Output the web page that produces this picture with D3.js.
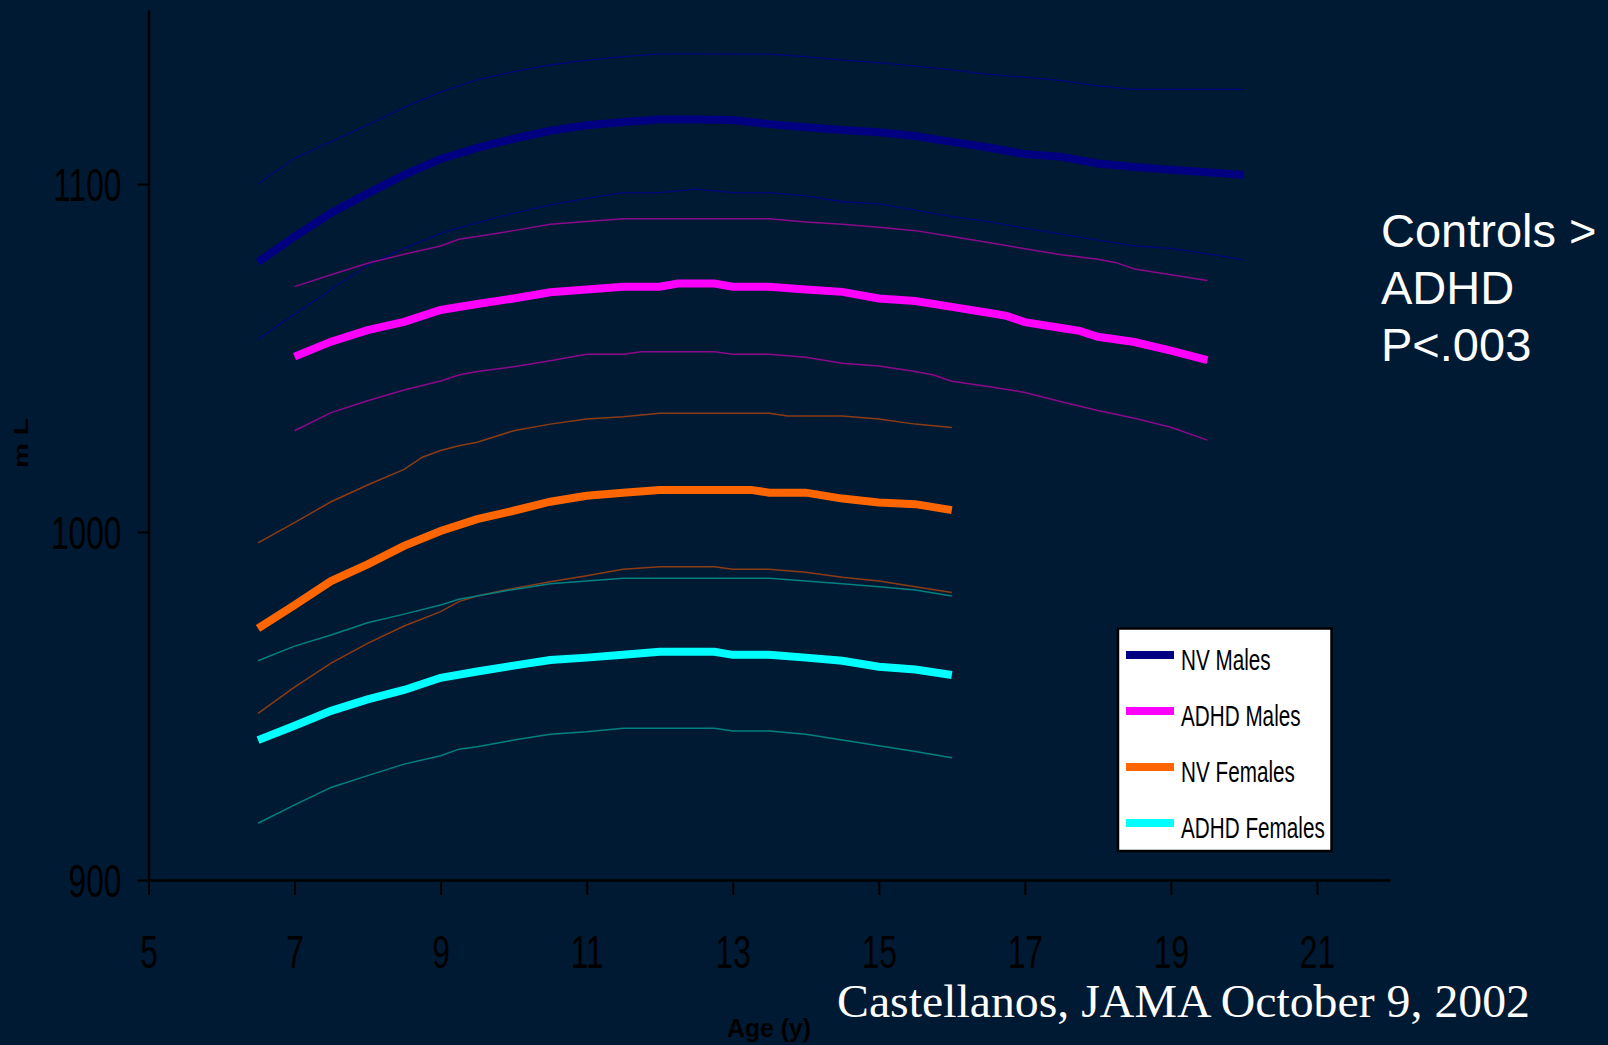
<!DOCTYPE html>
<html>
<head>
<meta charset="utf-8">
<script src="https://cdn.jsdelivr.net/npm/d3@7"></script>
<style>
  html, body { margin: 0; padding: 0; background: #001a33; }
  svg { display: block; }
</style>
</head>
<body>
<svg id="chart" width="1608" height="1045"></svg>
<script>
// Brain volume (mL) by age (y), mean curves with upper/lower bands, per group
const nvMalesMean = [[6.5,1077.6],[7,1084.9],[7.5,1091.7],[8,1097.3],[8.5,1102.6],[9,1107.2],[9.5,1110.4],[10,1113.0],[10.5,1115.3],[11,1116.9],[11.5,1117.8],[12,1118.5],[12.5,1118.5],[13,1118.4],[13.5,1117.2],[14,1116.3],[14.5,1115.5],[15,1114.9],[15.5,1113.8],[16,1112.1],[16.5,1110.5],[17,1108.6],[17.5,1107.8],[18,1105.9],[18.5,1104.9],[19,1104.1],[19.5,1103.4],[20,1102.6]];
const nvMalesUpper = [[6.5,1100.0],[7,1107.4],[7.5,1112.2],[8,1117.0],[8.5,1122.0],[9,1126.5],[9.5,1129.9],[10,1132.3],[10.5,1134.2],[11,1135.6],[11.5,1136.6],[12,1137.4],[12.5,1137.4],[13,1137.3],[13.5,1137.3],[14,1136.6],[14.5,1135.6],[15,1134.9],[15.5,1133.9],[16,1132.8],[16.5,1131.5],[17,1130.7],[17.5,1129.7],[18,1128.2],[18.5,1127.2],[19,1127.2],[19.5,1127.2],[20,1127.2]];
const nvMalesLower = [[6.5,1055.4],[7,1062.6],[7.5,1069.7],[8,1076.7],[8.5,1081.5],[9,1085.8],[9.5,1088.9],[10,1091.6],[10.5,1094.0],[11,1095.9],[11.5,1097.5],[12,1097.5],[12.5,1098.5],[13,1097.5],[13.5,1097.5],[14,1096.6],[14.5,1094.9],[15,1094.3],[15.5,1092.5],[16,1090.6],[16.5,1089.2],[17,1087.3],[17.5,1085.6],[18,1083.9],[18.5,1082.2],[19,1081.5],[19.5,1079.9],[20,1078.2]];

const adhdMalesMean = [[7,1050.4],[7.5,1054.7],[8,1058.0],[8.5,1060.4],[9,1063.8],[9.5,1065.5],[10,1067.1],[10.5,1068.9],[11,1069.7],[11.5,1070.5],[12,1070.5],[12.25,1071.4],[12.75,1071.4],[13,1070.5],[13.5,1070.5],[14,1069.7],[14.5,1069.0],[15,1067.1],[15.5,1066.4],[16,1064.7],[16.5,1063.0],[16.75,1062.1],[17,1060.3],[17.5,1058.6],[17.75,1057.8],[18,1056.1],[18.5,1054.6],[19,1052.1],[19.5,1049.4]];
const adhdMalesUpper = [[7,1070.5],[7.5,1073.9],[8,1077.2],[8.5,1079.8],[9,1082.2],[9.25,1084.1],[9.5,1084.9],[10,1086.6],[10.5,1088.4],[11,1089.2],[11.5,1090.0],[12,1090.0],[13,1090.0],[13.5,1090.0],[14,1089.1],[14.5,1088.4],[15,1087.6],[15.5,1086.6],[16,1084.9],[16.5,1083.2],[17,1081.4],[17.5,1079.7],[18,1078.4],[18.25,1077.4],[18.5,1075.6],[19,1073.9],[19.5,1072.3]];
const adhdMalesLower = [[7,1029.1],[7.5,1034.3],[8,1037.7],[8.5,1040.8],[9,1043.4],[9.25,1045.1],[9.5,1046.1],[10,1047.5],[10.5,1049.2],[11,1051.1],[11.5,1051.1],[11.75,1051.8],[12.75,1051.8],[13,1051.1],[13.5,1051.1],[14,1050.2],[14.5,1048.5],[15,1047.7],[15.5,1046.1],[15.75,1045.1],[16,1043.3],[16.5,1041.8],[17,1040.1],[17.5,1037.4],[18,1034.9],[18.5,1032.7],[19,1030.1],[19.5,1026.4]];

const nvFemalesMean = [[6.5,972.3],[7,979.0],[7.5,985.9],[8,990.7],[8.5,996.0],[9,1000.3],[9.5,1003.7],[10,1006.1],[10.5,1008.7],[11,1010.4],[11.5,1011.3],[12,1012.1],[12.5,1012.1],[13,1012.1],[13.25,1012.1],[13.5,1011.3],[14,1011.3],[14.5,1009.6],[15,1008.5],[15.5,1008.0],[16,1006.3]];
const nvFemalesUpper = [[6.5,996.9],[7,1002.7],[7.5,1008.7],[8,1013.5],[8.5,1018.0],[8.75,1021.5],[9,1023.4],[9.25,1024.8],[9.5,1025.8],[10,1029.1],[10.5,1031.0],[11,1032.5],[11.5,1033.1],[12,1034.1],[13.5,1034.1],[13.75,1033.3],[14.5,1033.3],[15,1032.5],[15.5,1031.0],[16,1030.0]];
const nvFemalesLower = [[6.5,947.9],[7,955.4],[7.5,962.3],[8,968.0],[8.5,973.0],[9,977.1],[9.25,980.0],[9.5,981.6],[10,983.8],[10.5,985.7],[11,987.4],[11.5,989.3],[12,990.0],[12.75,990.0],[13,989.3],[13.5,989.3],[14,988.4],[14.5,987.0],[15,985.9],[15.5,984.3],[16,982.6]];

const adhdFemalesMean = [[6.5,940.2],[7,944.3],[7.5,948.6],[8,951.9],[8.5,954.6],[9,958.1],[9.5,959.9],[10,961.6],[10.5,963.2],[11,963.9],[11.5,964.7],[12,965.6],[12.75,965.6],[13,964.7],[13.5,964.7],[14,963.9],[14.5,963.0],[15,961.3],[15.5,960.5],[16,958.9]];
const adhdFemalesUpper = [[6.5,963.0],[7,967.2],[7.5,970.4],[8,973.9],[8.5,976.4],[9,979.0],[9.25,980.7],[9.5,981.6],[10,983.5],[10.5,985.1],[11,985.9],[11.5,986.7],[13.5,986.7],[14,985.9],[14.5,985.1],[15,984.3],[15.5,983.3],[16,981.6]];
const adhdFemalesLower = [[6.5,916.3],[7,921.6],[7.5,926.6],[8,930.0],[8.5,933.3],[9,935.7],[9.25,937.6],[9.5,938.3],[10,940.2],[10.5,941.9],[11,942.6],[11.5,943.6],[12.75,943.6],[13,942.8],[13.5,942.8],[14,941.9],[14.5,940.2],[15,938.6],[15.5,936.9],[16,935.1]];

const groupNames = ["NV Males", "ADHD Males", "NV Females", "ADHD Females"];
const xTicks = [5, 7, 9, 11, 13, 15, 17, 19, 21];
const yTicks = [900, 1000, 1100];
const noteLines = ["Controls >", "ADHD", "P<.003"];
const sourceText = "Castellanos, JAMA October 9, 2002";

// Styling
const BG = "#001a33";
const meanColors = ["#000080", "#ff00ff", "#ff6600", "#00ffff"];
const bandColors = ["#00067a", "#8a0a8a", "#8c3c14", "#008080"];
const NARROW = 0.69;

const groups = [
  {mean: nvMalesMean, upper: nvMalesUpper, lower: nvMalesLower},
  {mean: adhdMalesMean, upper: adhdMalesUpper, lower: adhdMalesLower},
  {mean: nvFemalesMean, upper: nvFemalesUpper, lower: nvFemalesLower},
  {mean: adhdFemalesMean, upper: adhdFemalesUpper, lower: adhdFemalesLower}
];

const svg = d3.select("#chart");
svg.append("rect").attr("width", 1608).attr("height", 1045).attr("fill", BG);

const x = d3.scaleLinear().domain([5, 22]).range([148.5, 1390]);
const y = d3.scaleLinear().domain([900, 1150]).range([880, 10]);
const line = d3.line().x(d => x(d[0])).y(d => y(d[1]));

// Band lines (thin) first, then the group means on top
const plot = svg.append("g");
groups.forEach((g, i) => {
  [g.upper, g.lower].forEach(arr => {
    plot.append("path").datum(arr)
      .attr("d", line).attr("fill", "none")
      .attr("stroke", bandColors[i]).attr("stroke-width", i === 0 ? 1.3 : 1.5);
  });
});
groups.forEach((g, i) => {
  plot.append("path").datum(g.mean)
    .attr("d", line).attr("fill", "none")
    .attr("stroke", meanColors[i]).attr("stroke-width", 8)
    .attr("stroke-linejoin", "miter").attr("stroke-linecap", "butt");
});

// Axes
const yAxis = svg.append("g").attr("transform", "translate(148.5,0)")
  .call(d3.axisLeft(y).tickValues(yTicks).tickSize(11).tickSizeOuter(0).tickFormat(d3.format("d")));
const xAxis = svg.append("g").attr("transform", "translate(0,880)")
  .call(d3.axisBottom(x).tickValues(xTicks).tickSize(15).tickSizeOuter(0).tickFormat(d3.format("d")));

[yAxis, xAxis].forEach(a => {
  a.select(".domain").attr("stroke", "#000").attr("stroke-width", 2.5);
  a.selectAll(".tick line").attr("stroke", "#000").attr("stroke-width", 2);
  a.selectAll(".tick text")
    .attr("fill", "#000")
    .style("font-family", "'Liberation Sans', Arial, sans-serif")
    .style("font-size", "46px");
});
yAxis.selectAll(".tick text")
  .attr("transform", `scale(${NARROW},1)`)
  .attr("x", -27 / NARROW)
  .attr("dy", "0.36em");
xAxis.selectAll(".tick text")
  .attr("transform", `scale(${NARROW},1)`)
  .attr("y", 88)
  .attr("dy", 0);

// Axis titles
svg.append("text")
  .attr("transform", `translate(21,443) scale(${NARROW},1) rotate(-90)`)
  .attr("text-anchor", "middle").attr("dy", "0.36em")
  .style("font-family", "'Liberation Sans', Arial, sans-serif")
  .style("font-size", "28px").style("font-weight", "bold")
  .attr("fill", "#000").text("m L");

svg.append("text")
  .attr("x", 769).attr("y", 1037).attr("text-anchor", "middle")
  .attr("textLength", 84).attr("lengthAdjust", "spacingAndGlyphs")
  .style("font-family", "'Liberation Sans', Arial, sans-serif")
  .style("font-size", "26px").style("font-weight", "bold")
  .attr("fill", "#000").text("Age (y)");

// Legend
const legend = svg.append("g");
legend.append("rect")
  .attr("x", 1118).attr("y", 628.5).attr("width", 213.5).attr("height", 222.5)
  .attr("fill", "#fff").attr("stroke", "#000").attr("stroke-width", 2.5);
groupNames.forEach((name, i) => {
  const cy = 655 + i * 56;
  legend.append("line")
    .attr("x1", 1126).attr("x2", 1174).attr("y1", cy).attr("y2", cy)
    .attr("stroke", meanColors[i]).attr("stroke-width", 8);
  legend.append("text")
    .attr("transform", `translate(1181,${cy + 15}) scale(${NARROW},1)`)
    .style("font-family", "'Liberation Sans', Arial, sans-serif")
    .style("font-size", "30px")
    .attr("fill", "#000").text(name);
});

// Annotation and source
noteLines.forEach((t, i) => {
  svg.append("text")
    .attr("x", 1381).attr("y", 247 + i * 57)
    .style("font-family", "'Liberation Sans', Arial, sans-serif")
    .style("font-size", "47px")
    .attr("fill", "#fff").text(t);
});

svg.append("text")
  .attr("x", 837).attr("y", 1017)
  .attr("textLength", 693).attr("lengthAdjust", "spacingAndGlyphs")
  .style("font-family", "'Liberation Serif', 'Times New Roman', serif")
  .style("font-size", "47px")
  .attr("fill", "#fff").text(sourceText);
</script>
</body>
</html>
